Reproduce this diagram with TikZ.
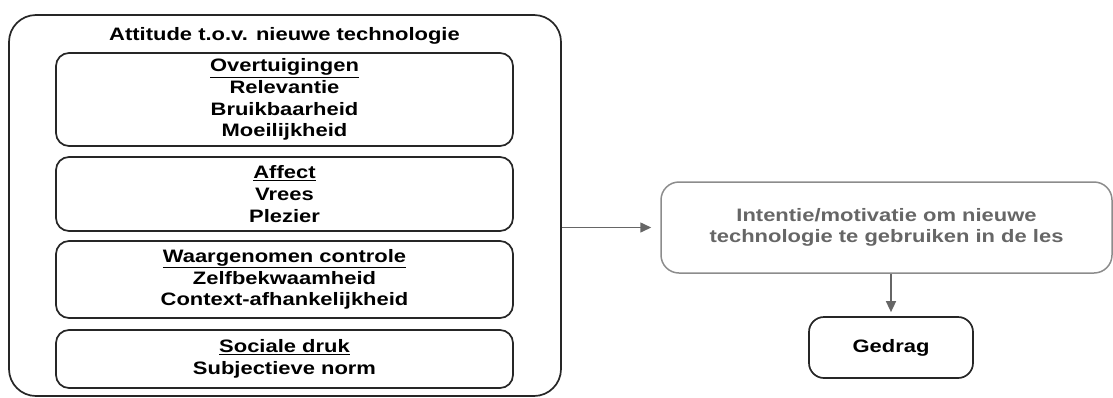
\documentclass[tikz,border=0pt]{standalone}
\usepackage{fontspec}
\setmainfont{Liberation Sans}[FakeStretch=1.22]
\usepackage{tikz}
\usetikzlibrary{arrows.meta}

\definecolor{lijngrijs}{HTML}{8C8C8C}
\definecolor{tekstgrijs}{HTML}{666666}
\definecolor{pijlgrijs}{HTML}{666666}

\begin{document}
\begin{tikzpicture}[x=1pt,y=-1pt,>=Latex,
  txt/.style={font=\bfseries\fontsize{18}{21.7}\selectfont,align=center},
  outerbox/.style={draw=black!85,line width=1.7pt,rounded corners=27pt,minimum width=552pt,minimum height=381pt,inner sep=0pt},
  subbox/.style={txt,draw=black!85,line width=1.7pt,rounded corners=13pt,minimum width=457pt,inner sep=0pt},
  greybox/.style={txt,draw=lijngrijs,text=tekstgrijs,line width=1.5pt,rounded corners=18pt,minimum width=451pt,minimum height=91pt,inner sep=0pt},
  endbox/.style={txt,draw=black!85,line width=1.7pt,rounded corners=15pt,minimum width=164pt,minimum height=61pt,inner sep=0pt},
  pijl/.style={-{Triangle[length=11pt,width=10pt]},draw=pijlgrijs,line width=1.5pt}]
\useasboundingbox (0,0) rectangle (1113,397);
\node[outerbox] (attitude) at (285,205.5) {};
\node[txt] (titel) at (284.5,36) {Attitude t.o.v. nieuwe technologie};
\node[subbox,minimum height=93pt] (overt) at (284.5,99.5) {\underline{Overtuigingen}\\Relevantie\\Bruikbaarheid\\Moeilijkheid};
\node[subbox,minimum height=74pt] (affect) at (284.5,194) {\underline{Affect}\\Vrees\\Plezier};
\node[subbox,minimum height=77pt] (controle) at (284.5,279.5) {\underline{Waargenomen controle}\\Zelfbekwaamheid\\Context-afhankelijkheid};
\node[subbox,minimum height=58pt] (druk) at (284.5,359) {\underline{Sociale druk}\\Subjectieve norm};
\node[greybox] (intentie) at (886.5,227.5) {Intentie/motivatie om nieuwe\\technologie te gebruiken in de les};
\node[endbox] (gedrag) at (891,347.5) {Gedrag};
\draw[pijl,shorten >=9pt] (attitude.east |- intentie.west) -- (intentie.west);
\draw[pijl,shorten >=4pt] (gedrag.north |- intentie.south) -- (gedrag.north);
\end{tikzpicture}
\end{document}
